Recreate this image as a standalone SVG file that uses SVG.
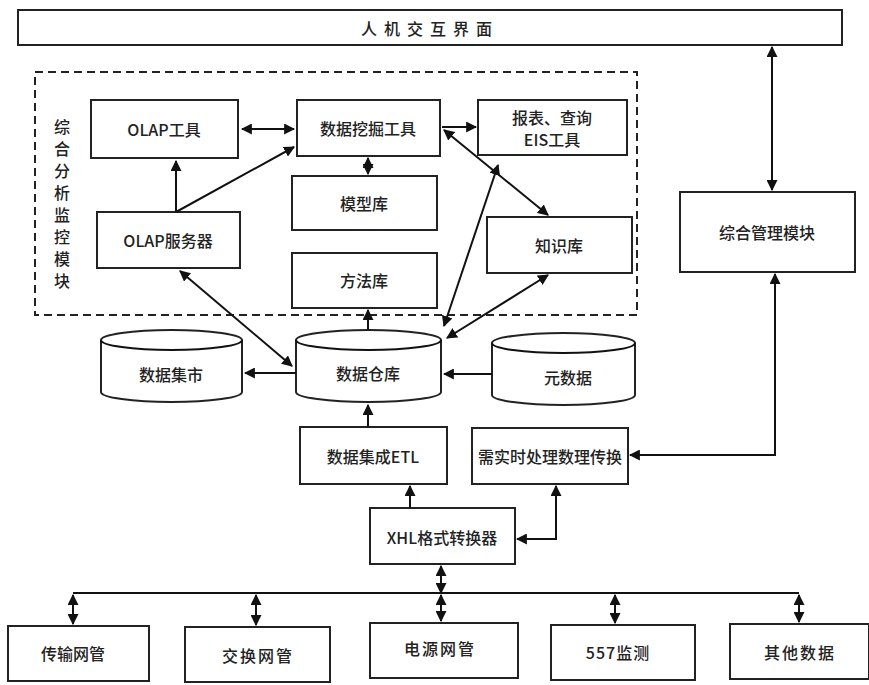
<svg xmlns="http://www.w3.org/2000/svg" width="869" height="685" viewBox="0 0 869 685">
<defs>
<marker id="ah" viewBox="0 0 10 10" refX="9" refY="5" markerWidth="5.5" markerHeight="5.5" orient="auto-start-reverse" markerUnits="strokeWidth">
<path d="M0,0 L10,5 L0,10 z" fill="#111"/>
</marker>
<style>
.box{fill:#fff;stroke:#222;stroke-width:2}
.cyl{fill:#fff;stroke:#222;stroke-width:2}
.t{font-family:"Noto Sans CJK SC","Noto Sans",sans-serif;font-size:16px;fill:#222;text-anchor:middle;dominant-baseline:central;font-weight:500}
.c{fill:none;stroke:#111;stroke-width:2}
.a{marker-end:url(#ah)}
.d{marker-start:url(#ah);marker-end:url(#ah)}
</style>
</defs>
<rect width="869" height="685" fill="#fff"/>

<g id="hmi"><rect class="box" x="18" y="10" width="824" height="35"/><text class="t" x="430" y="28" font-size="18" letter-spacing="7">人机交互界面</text></g>

<g id="analysis-module"><rect x="35" y="72" width="602" height="243" fill="none" stroke="#222" stroke-width="2" stroke-dasharray="8,5"/>
<text class="t" x="62" y="126">综</text><text class="t" x="62" y="148">合</text><text class="t" x="62" y="170">分</text><text class="t" x="62" y="192">析</text><text class="t" x="62" y="214">监</text><text class="t" x="62" y="236">控</text><text class="t" x="62" y="258">模</text><text class="t" x="62" y="280">块</text></g>

<g id="olap-tool"><rect class="box" x="91" y="100" width="147" height="58"/><text class="t" x="164" y="129" font-size="17">OLAP工具</text></g>
<g id="dm-tool"><rect class="box" x="297" y="100" width="143" height="56"/><text class="t" x="368" y="128" font-size="17">数据挖掘工具</text></g>
<g id="report-tool"><rect class="box" x="478" y="100" width="149" height="55"/><text class="t" x="552" y="117" font-size="15">报表、查询</text><text class="t" x="552" y="139" font-size="15">EIS工具</text></g>
<g id="model-lib"><rect class="box" x="292" y="176" width="145" height="54"/><text class="t" x="364" y="203" font-size="17">模型库</text></g>
<g id="olap-server"><rect class="box" x="97" y="212" width="143" height="56"/><text class="t" x="168" y="240" font-size="17">OLAP服务器</text></g>
<g id="knowledge-lib"><rect class="box" x="487" y="217" width="145" height="56"/><text class="t" x="559" y="245" font-size="17">知识库</text></g>
<g id="method-lib"><rect class="box" x="292" y="253" width="145" height="55"/><text class="t" x="364" y="280" font-size="17">方法库</text></g>
<g id="mgmt-module"><rect class="box" x="680" y="192" width="175" height="80"/><text class="t" x="767" y="232" font-size="17">综合管理模块</text></g>

<g id="data-mart"><path class="cyl" d="M101,340 A70.5,10 0 0 1 242,340 L242,392 A70.5,10 0 0 1 101,392 Z"/><path class="c" d="M101,340 A70.5,10 0 0 0 242,340"/><text class="t" x="171" y="374" font-size="17">数据集市</text></g>
<g id="dw"><path class="cyl" d="M296,340 A72.5,10 0 0 1 441,340 L441,392 A72.5,10 0 0 1 296,392 Z"/><path class="c" d="M296,340 A72.5,10 0 0 0 441,340"/><text class="t" x="368" y="373" font-size="17">数据仓库</text></g>
<g id="metadata"><path class="cyl" d="M492,343 A71.5,10 0 0 1 635,343 L635,395 A71.5,10 0 0 1 492,395 Z"/><path class="c" d="M492,343 A71.5,10 0 0 0 635,343"/><text class="t" x="568" y="377" font-size="17">元数据</text></g>

<g id="etl"><rect class="box" x="300" y="427" width="147" height="57"/><text class="t" x="373" y="456" font-size="15">数据集成ETL</text></g>
<g id="realtime"><rect class="box" x="472" y="428" width="156" height="56"/><text class="t" x="550" y="456" font-size="15">需实时处理数理传换</text></g>
<g id="xhl"><rect class="box" x="370" y="508" width="145" height="56"/><text class="t" x="442" y="537" font-size="15">XHL格式转换器</text></g>

<g id="nm-trans"><rect class="box" x="8" y="626" width="141" height="55"/><text class="t" x="73" y="653" font-size="15">传输网管</text></g>
<g id="nm-switch"><rect class="box" x="185" y="627" width="145" height="55"/><text class="t" x="258" y="655" font-size="15" letter-spacing="2">交换网管</text></g>
<g id="nm-power"><rect class="box" x="370" y="623" width="148" height="55"/><text class="t" x="440" y="648" font-size="15" letter-spacing="2">电源网管</text></g>
<g id="mon557"><rect class="box" x="551" y="625" width="144" height="55"/><text class="t" x="618" y="652" font-size="15" letter-spacing="1">557监测</text></g>
<g id="other"><rect class="box" x="730" y="624" width="139" height="55"/><text class="t" x="800" y="652" font-size="15" letter-spacing="2">其他数据</text></g>

<g id="connectors">
<line class="c d" x1="772" y1="47" x2="772" y2="190"/>
<polyline class="c d" points="775,274 775,455 630,455"/>
<line class="c d" x1="242" y1="129" x2="294" y2="129"/>
<line class="c a" x1="176" y1="212" x2="176" y2="161"/>
<line class="c a" x1="176" y1="212" x2="294" y2="147"/>
<line class="c a" x1="442" y1="127" x2="476" y2="127"/>
<line class="c d" x1="444" y1="130" x2="548" y2="215"/>
<line class="c d" x1="368" y1="158" x2="368" y2="174"/>
<line class="c d" x1="444" y1="326" x2="498" y2="165"/>
<line class="c d" x1="447" y1="338" x2="548" y2="275"/>
<line class="c d" x1="180" y1="271" x2="292" y2="366"/>
<line class="c a" x1="296" y1="373" x2="245" y2="373"/>
<line class="c a" x1="492" y1="374" x2="444" y2="374"/>
<line class="c a" x1="368" y1="330" x2="368" y2="310"/>
<line class="c a" x1="368" y1="427" x2="368" y2="405"/>
<line class="c a" x1="410" y1="508" x2="410" y2="486"/>
<polyline class="c d" points="517,539 556,539 556,486"/>
<line class="c d" x1="441" y1="566" x2="441" y2="593"/>
<line class="c" x1="73" y1="593" x2="799" y2="593"/>
<line class="c d" x1="73" y1="595" x2="73" y2="624"/>
<line class="c d" x1="256" y1="595" x2="256" y2="625"/>
<line class="c d" x1="441" y1="595" x2="441" y2="621"/>
<line class="c d" x1="615" y1="595" x2="615" y2="623"/>
<line class="c d" x1="799" y1="595" x2="799" y2="622"/>
</g>
</svg>
